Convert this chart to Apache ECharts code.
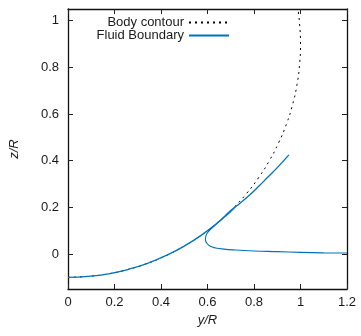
<!DOCTYPE html>
<html>
<head>
<meta charset="utf-8">
<script src="https://cdn.jsdelivr.net/npm/echarts@6/dist/echarts.min.js"></script>
<style>
  html, body { margin: 0; padding: 0; background: #fff; }
  #chart { width: 361px; height: 336px; }
</style>
</head>
<body>
<div id="chart"></div>
<script>
// body contour (y/R, z/R)
const bodyY = [0, 0.087, 0.174, 0.259, 0.342, 0.423, 0.5, 0.574, 0.643, 0.707, 0.766, 0.819, 0.866, 0.906, 0.94, 0.966, 0.985, 0.996, 1.0, 0.996, 0.989]
const bodyZ = [-0.1, -0.096, -0.085, -0.066, -0.04, -0.006, 0.034, 0.081, 0.134, 0.193, 0.257, 0.326, 0.4, 0.477, 0.558, 0.641, 0.726, 0.813, 0.9, 0.987, 1.05]

// fluid boundary, wetted part + jet
const wallY = [0, 0.087, 0.174, 0.259, 0.342, 0.423, 0.5, 0.574, 0.643, 0.7, 0.74, 0.78, 0.82, 0.86, 0.9, 0.95]
const wallZ = [-0.1, -0.096, -0.085, -0.066, -0.04, -0.006, 0.034, 0.081, 0.134, 0.186, 0.218, 0.252, 0.29, 0.33, 0.37, 0.425]

// fluid boundary, free surface with the curl
const freeY = [1.2, 1.1, 1.0, 0.9, 0.8, 0.72, 0.67, 0.635, 0.612, 0.598, 0.591, 0.594, 0.603, 0.618, 0.64, 0.666, 0.7, 0.72]
const freeZ = [0.004, 0.005, 0.007, 0.01, 0.013, 0.017, 0.021, 0.026, 0.033, 0.045, 0.062, 0.08, 0.095, 0.11, 0.13, 0.152, 0.182, 0.203]

const zTicks = [0, 0.2, 0.4, 0.6, 0.8, 1]

const zip = (a, b) => a.map((v, i) => [v, b[i]])

const myChart = echarts.init(document.getElementById('chart'))
const blue = '#0072bd'
const txt = { color: '#1a1a1a', fontSize: 13, fontFamily: 'Liberation Sans, Arial, sans-serif' }
const axisLine = { show: true, onZero: false, lineStyle: { color: '#111', width: 1.3 } }
const tick = { show: true, inside: true, length: 5, lineStyle: { color: '#222', width: 1 } }

const option = {
  animation: false,
  grid: { left: 67, top: 9, right: 14, bottom: 47 },
  legend: {
    orient: 'vertical',
    right: 131,
    top: 16,
    padding: 0,
    align: 'right',
    itemWidth: 40,
    itemHeight: 12,
    itemGap: 0,
    itemStyle: { opacity: 0 },
    textStyle: txt,
    data: ['Body contour', 'Fluid Boundary']
  },
  xAxis: [
    {
      type: 'value', min: 0, max: 1.2, interval: 0.2,
      name: 'y/R', nameLocation: 'middle', nameGap: 25,
      nameTextStyle: Object.assign({}, txt, { fontStyle: 'italic' }),
      axisLine, axisTick: tick,
      axisLabel: Object.assign({}, txt, { margin: 7 }),
      splitLine: { show: false }
    },
    {
      type: 'value', position: 'top', min: 0, max: 1.2, interval: 0.2,
      axisLine, axisTick: tick, axisLabel: { show: false }, splitLine: { show: false }
    }
  ],
  yAxis: [
    {
      type: 'value', min: -0.15, max: 1.05,
      name: 'z/R', nameLocation: 'middle', nameGap: 47,
      nameTextStyle: Object.assign({}, txt, { fontStyle: 'italic' }),
      axisLine,
      axisTick: Object.assign({}, tick, { customValues: zTicks }),
      axisLabel: Object.assign({}, txt, { margin: 9, customValues: zTicks }),
      splitLine: { show: false }
    },
    {
      type: 'value', position: 'right', min: -0.15, max: 1.05,
      axisLine,
      axisTick: Object.assign({}, tick, { customValues: zTicks }),
      axisLabel: { show: false, customValues: zTicks },
      splitLine: { show: false }
    }
  ],
  series: [
    {
      name: 'Body contour', type: 'line', symbol: 'none', smooth: true,
      data: zip(bodyY, bodyZ),
      lineStyle: { color: '#000', width: 1, type: [2, 4] },
      itemStyle: { color: '#000' },
      z: 1
    },
    {
      name: 'Fluid Boundary', type: 'line', symbol: 'none', smooth: true,
      data: zip(wallY, wallZ),
      lineStyle: { color: blue, width: 1.3 },
      itemStyle: { color: blue },
      z: 2
    },
    {
      name: 'Fluid Boundary', type: 'line', symbol: 'none', smooth: true,
      data: zip(freeY, freeZ),
      lineStyle: { color: blue, width: 1.1 },
      itemStyle: { color: blue },
      z: 2
    }
  ]
}
myChart && myChart.setOption(option)
</script>
</body>
</html>
